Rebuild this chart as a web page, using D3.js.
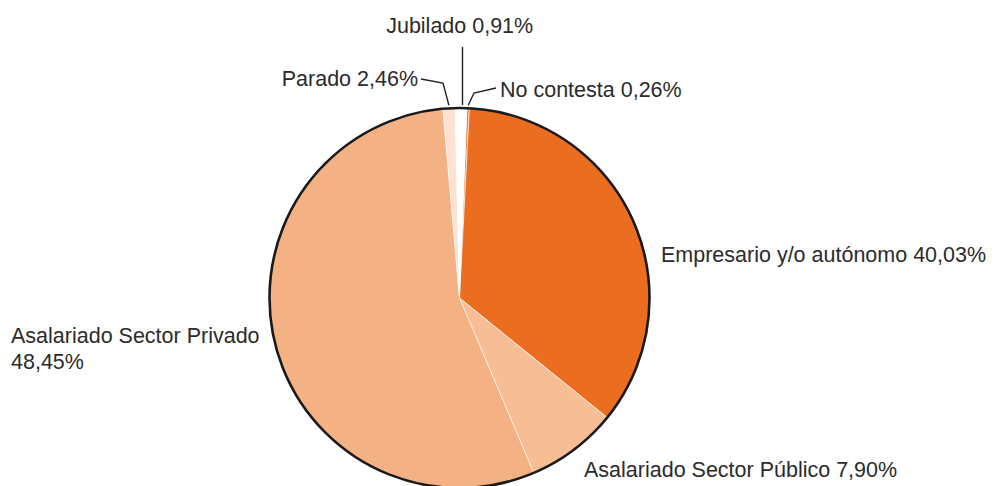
<!DOCTYPE html>
<html>
<head>
<meta charset="utf-8">
<script src="https://cdn.jsdelivr.net/npm/d3@7"></script>
<style>
  html, body { margin: 0; padding: 0; background: #fff; }
  svg text { font-family: "Liberation Sans", Arial, sans-serif; font-size: 21.5px; fill: #2b2b2b; }
</style>
</head>
<body>
<div id="vis"></div>
<script>
// categories, clockwise from the top
const categories = [
  "No contesta",
  "Empresario y/o autónomo",
  "Asalariado Sector Público",
  "Asalariado Sector Privado",
  "Parado",
  "Jubilado"
];

// percentages as printed on the labels
const labels = ["0,26%", "40,03%", "7,90%", "48,45%", "2,46%", "0,91%"];

// slice sizes as drawn in the picture (measured from the angles)
const shares = [0.22, 35.0, 7.78, 55.0, 1.03, 0.97];

const colours = ["#f0874a", "#eb6d20", "#f7be96", "#f4b183", "#fde2d1", "#ffffff"];

const width = 997;
const height = 486;

// centre and radius of the pie
const centre = { x: 459.5, y: 298 };
const radius = 190;

const svg = d3.select("#vis")
  .append("svg")
  .attr("width", width)
  .attr("height", height);

const startAngle = 2.2 * Math.PI / 180;

const pie = d3.pie()
  .sort(null)
  .value((d) => d)
  .startAngle(startAngle)
  .endAngle(startAngle + 2 * Math.PI);

const arcs = pie(shares);

const arc = d3.arc().innerRadius(0).outerRadius(radius);

const g = svg.append("g")
  .attr("transform", `translate(${centre.x},${centre.y})`);

g.selectAll("path.slice")
  .data(arcs)
  .enter()
  .append("path")
  .attr("class", "slice")
  .attr("d", arc)
  .attr("fill", (d, i) => colours[i])
  .attr("stroke", "#fff")
  .attr("stroke-width", 0.6);

// black outline round the whole pie
g.append("circle")
  .attr("r", radius)
  .attr("fill", "none")
  .attr("stroke", "#1a1a1a")
  .attr("stroke-width", 2.6);

// point on the rim at the middle of a slice, in page coordinates
function rimPoint(d, r) {
  const a = (d.startAngle + d.endAngle) / 2;
  return [centre.x + r * Math.sin(a), centre.y - r * Math.cos(a)];
}

// label layout: where the text sits and, for the small slices, the elbow of the leader
const labelLayout = [
  { x: 500, y: 97, anchor: "start", elbow: [474, 93], from: [496, 88] },
  { x: 661, y: 262, anchor: "start" },
  { x: 584, y: 477, anchor: "start" },
  { x: 11, y: 343, anchor: "start", twoLines: true },
  { x: 418, y: 86, anchor: "end", elbow: [443, 83], from: [421, 79] },
  { x: 459.7, y: 33, anchor: "middle", from: [462.5, 47], straight: true }
];

const line = d3.line();

arcs.forEach((d, i) => {
  const L = labelLayout[i];
  const t = svg.append("text")
    .attr("x", L.x)
    .attr("y", L.y)
    .attr("text-anchor", L.anchor);
  if (L.twoLines) {
    t.append("tspan").attr("x", L.x).text(categories[i]);
    t.append("tspan").attr("x", L.x).attr("dy", 26).text(labels[i]);
  } else {
    t.text(`${categories[i]} ${labels[i]}`);
  }

  if (L.from) {
    const end = rimPoint(d, radius + 3);
    const pts = L.straight ? [L.from, [L.from[0], end[1]]] : [L.from, L.elbow, end];
    svg.append("path")
      .attr("d", line(pts))
      .attr("fill", "none")
      .attr("stroke", "#222")
      .attr("stroke-width", 1.4);
  }
});
</script>
</body>
</html>
